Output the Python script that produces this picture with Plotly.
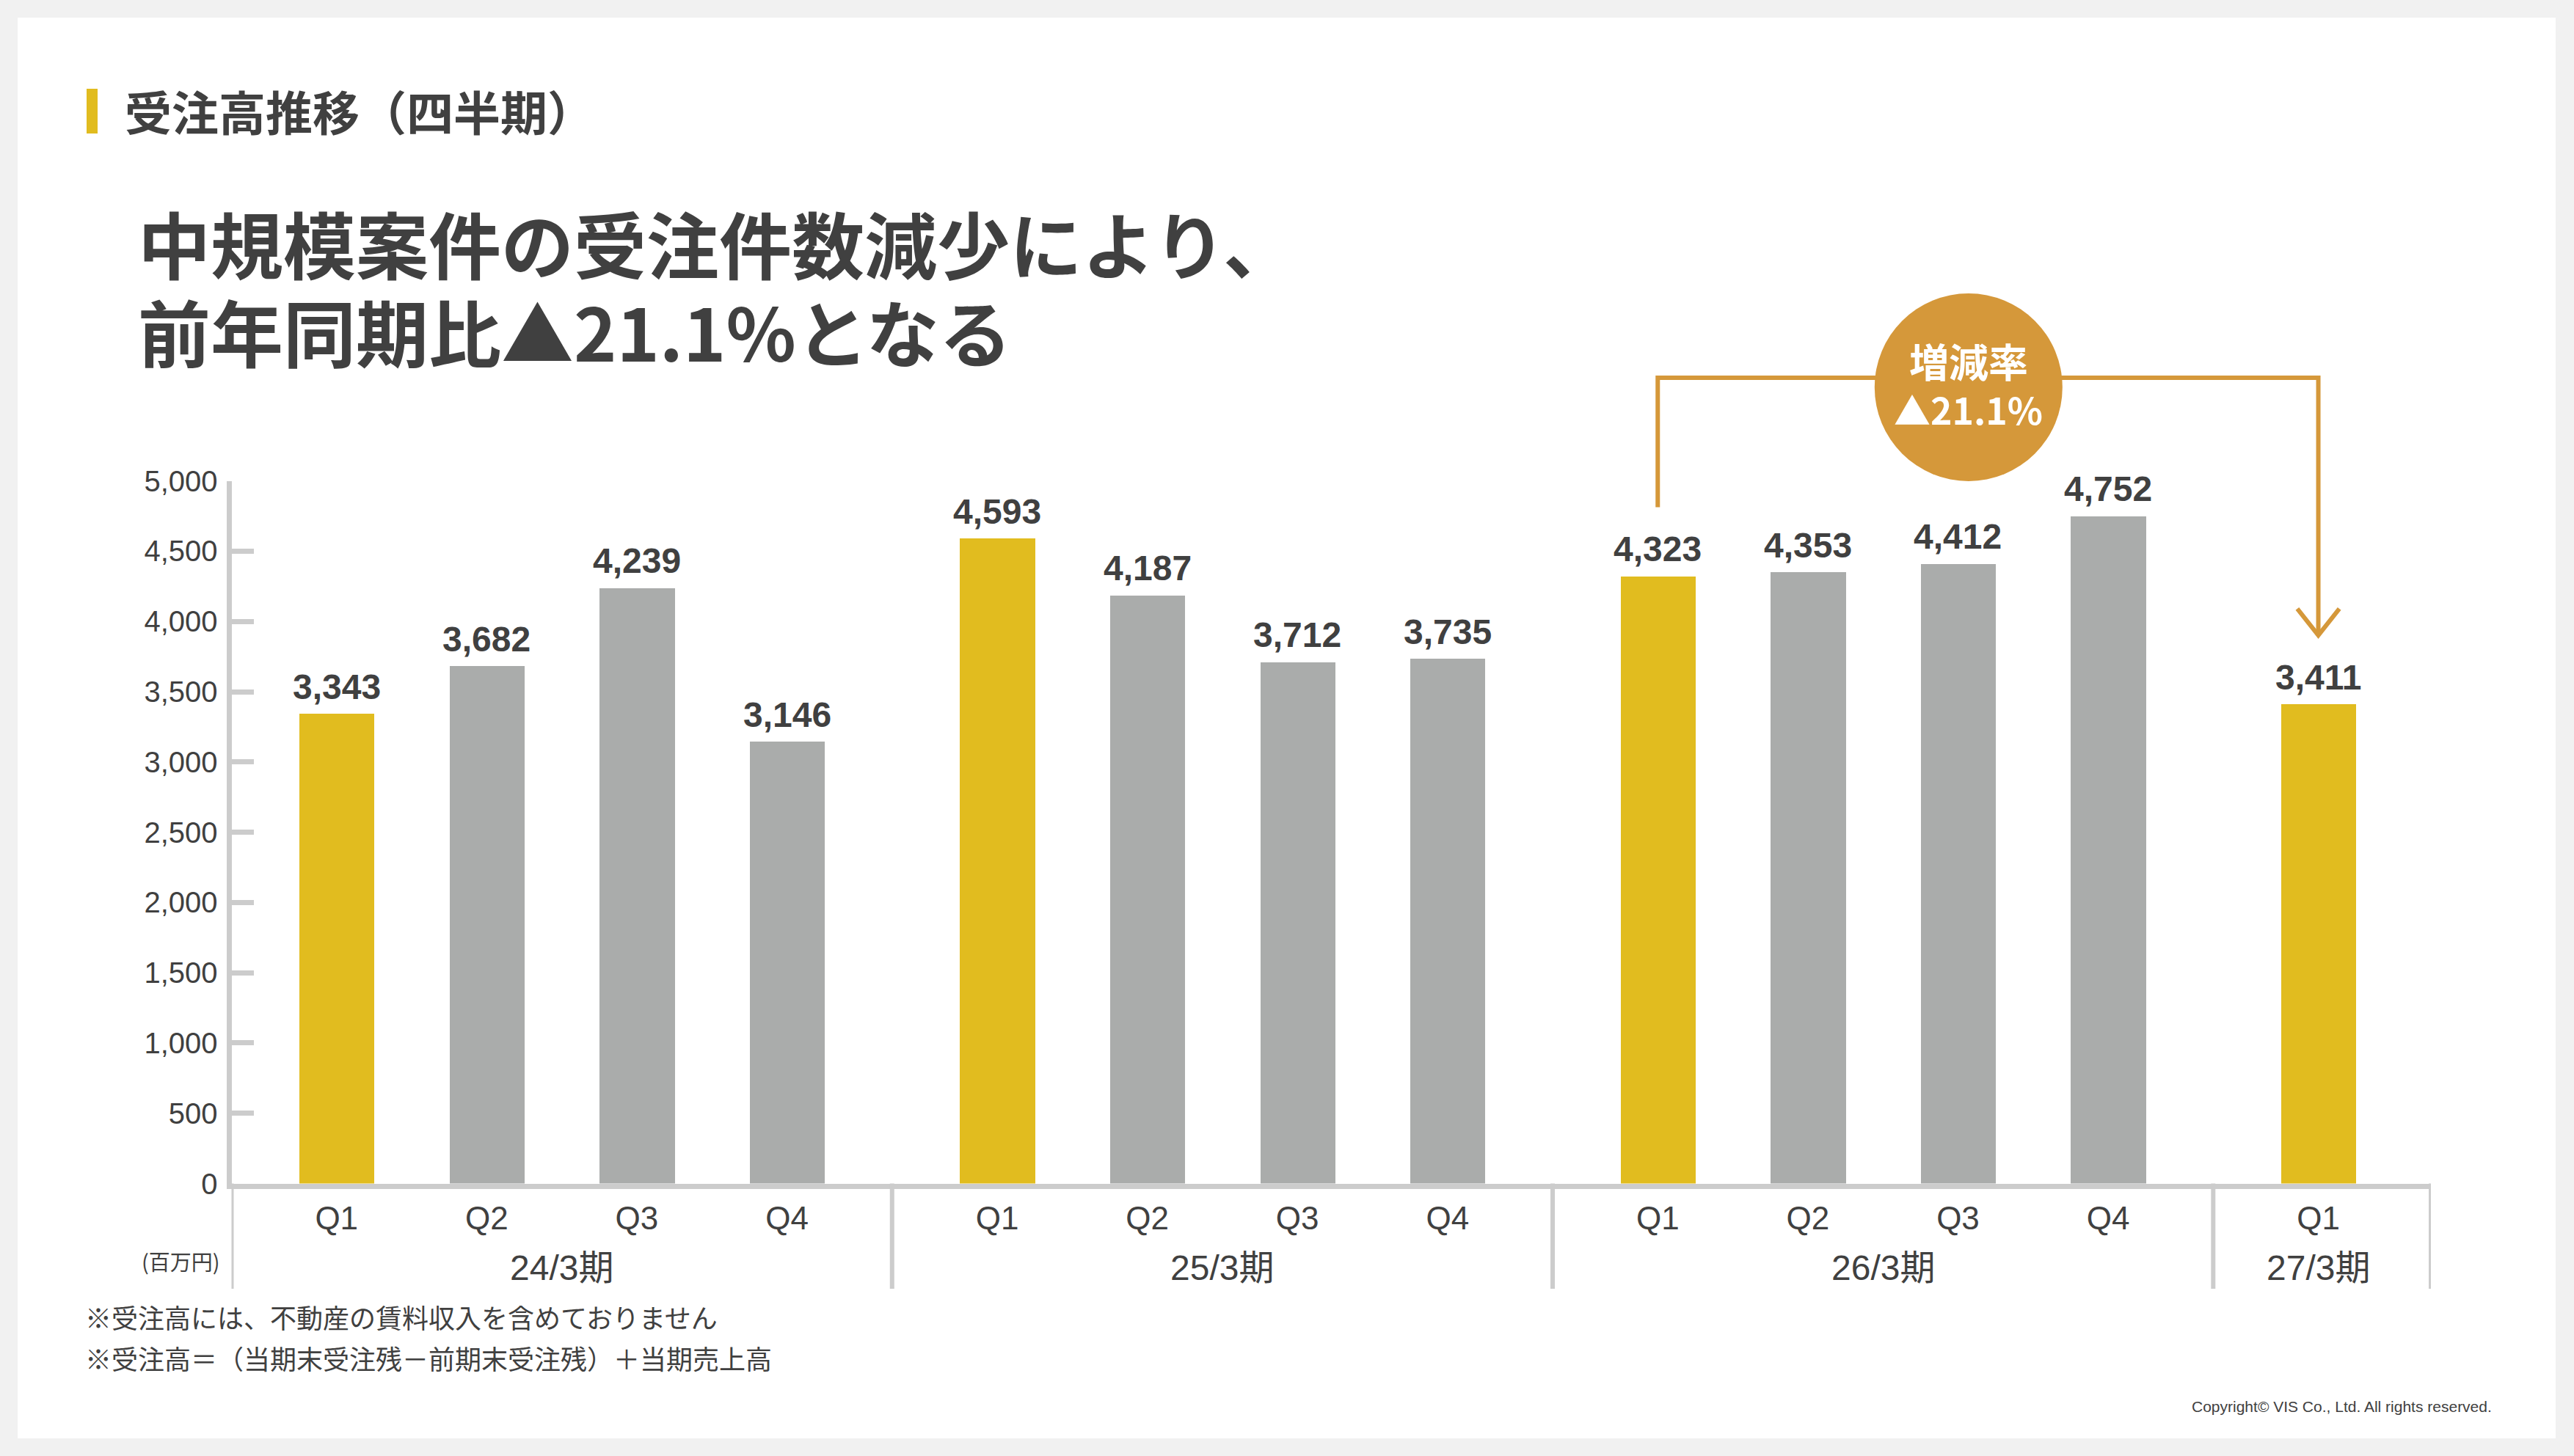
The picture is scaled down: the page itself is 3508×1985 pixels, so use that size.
import plotly.graph_objects as go

# ---------------- data ----------------
periods = ["24/3期", "24/3期", "24/3期", "24/3期",
           "25/3期", "25/3期", "25/3期", "25/3期",
           "26/3期", "26/3期", "26/3期", "26/3期",
           "27/3期"]
quarters = ["Q1", "Q2", "Q3", "Q4",
            "Q1", "Q2", "Q3", "Q4",
            "Q1", "Q2", "Q3", "Q4",
            "Q1"]
values = [3343, 3682, 4239, 3146,
          4593, 4187, 3712, 3735,
          4323, 4353, 4412, 4752,
          3411]
group_labels = ["24/3期", "25/3期", "26/3期", "27/3期"]
yticks = [0, 500, 1000, 1500, 2000, 2500, 3000, 3500, 4000, 4500, 5000]
change_label = "増減率"
change_value = "▲21.1%"

title_text = "受注高推移（四半期）"
headline1 = "中規模案件の受注件数減少により、"
headline2 = "前年同期比▲21.1%となる"
note1 = "※受注高には、不動産の賃料収入を含めておりません"
note2 = "※受注高＝（当期末受注残－前期末受注残）＋当期売上高"
unit_text = "(百万円)"
copyright_text = "Copyright© VIS Co., Ltd. All rights reserved."

# ---------------- style ----------------
W, H = 3508, 1985
YELLOW = "#E1BC1F"
GRAY = "#AAACAB"
AXIS = "#CCCCCC"
TEXT = "#404040"
ORANGE = "#D5983A"
JP = "Noto Sans CJK JP"
LAT = "Liberation Sans, Noto Sans CJK JP"
YMAX = 5000
GROUP_GAP = 0.4
BAR_W = 0.5

# x positions: groups separated by an extra gap
group_index = [group_labels.index(p) for p in periods]
q_index = [int(q[1]) - 1 for q in quarters]
xpos = [g * (4 + GROUP_GAP) + q for g, q in zip(group_index, q_index)]
colors = [YELLOW if q == "Q1" else GRAY for q in quarters]

# group extents
g_min = {}
g_max = {}
for g, x in zip(group_index, xpos):
    g_min[g] = min(g_min.get(g, x), x)
    g_max[g] = max(g_max.get(g, x), x)
half = (1 + GROUP_GAP) / 2
boundaries = ([g_min[0] - 0.7]
              + [g_max[g] + half for g in range(len(group_labels) - 1)]
              + [g_max[len(group_labels) - 1] + 0.75])
xrange_ = [boundaries[0], boundaries[-1]]

x_dom = [315.5 / W, 3313 / W]
y_dom = [1 - 1613.5 / H, 1 - 655.7 / H]

fig = go.Figure()
fig.add_trace(go.Bar(
    x=xpos, y=values, width=BAR_W,
    marker=dict(color=colors, line=dict(width=0)),
    hoverinfo="y", showlegend=False,
))

shapes = []
# white card on grey page
shapes.append(dict(type="rect", xref="paper", yref="paper",
                   x0=24 / W, x1=3483 / W, y0=1 - 1961 / H, y1=1 - 24 / H,
                   fillcolor="white", line=dict(width=0), layer="below"))
# title marker
shapes.append(dict(type="rect", xref="paper", yref="paper",
                   x0=118 / W, x1=133 / W, y0=1 - 182 / H, y1=1 - 121 / H,
                   fillcolor=YELLOW, line=dict(width=0)))
# group separators below the axis
for b in boundaries:
    shapes.append(dict(type="line", xref="x", yref="paper",
                       x0=b, x1=b, y0=y_dom[0], y1=1 - 1757 / H,
                       line=dict(color=AXIS, width=6)))

# bracket from 26/3 Q1 to 27/3 Q1
i_from, i_to = 8, 12
GAP = 490
top = 1.1468
x_a, x_b = xpos[i_from], xpos[i_to]
y_a = (values[i_from] + GAP) / YMAX
y_b = (values[i_to] + GAP) / YMAX
shapes.append(dict(type="path", xref="x", yref="y domain",
                   path=f"M {x_a} {y_a} L {x_a} {top} L {x_b} {top} L {x_b} {y_b}",
                   line=dict(color=ORANGE, width=6)))
dx, dy = 0.14, 190 / YMAX
shapes.append(dict(type="path", xref="x", yref="y domain",
                   path=f"M {x_b - dx} {y_b + dy} L {x_b} {y_b} L {x_b + dx} {y_b + dy}",
                   line=dict(color=ORANGE, width=6)))
cx = (x_a + x_b) / 2 - 0.13
shapes.append(dict(type="circle", xref="x", yref="y domain",
                   xsizemode="pixel", ysizemode="pixel",
                   xanchor=cx, yanchor=1.1334,
                   x0=-128, x1=128, y0=-128, y1=128,
                   fillcolor=ORANGE, line=dict(width=0)))

annotations = []
# bar value labels
for x, v in zip(xpos, values):
    annotations.append(dict(x=x, y=v, xref="x", yref="y", text=f"{v:,}",
                            showarrow=False, xanchor="center", yanchor="bottom", yshift=8,
                            font=dict(family=LAT, size=48, color=TEXT, weight="bold")))
# group labels
for g, lab in enumerate(group_labels):
    annotations.append(dict(x=(g_min[g] + g_max[g]) / 2, y=1 - 1728 / H,
                            xref="x", yref="paper", text=lab, showarrow=False,
                            xanchor="center", yanchor="middle",
                            font=dict(family=LAT, size=48, color=TEXT)))
# circle text
annotations.append(dict(x=cx, y=1.1710, xref="x", yref="y domain", text=change_label,
                        showarrow=False, xanchor="center", yanchor="middle",
                        font=dict(family=JP, size=54, color="white", weight="bold")))
annotations.append(dict(x=cx, y=1.1032, xref="x", yref="y domain", text=change_value,
                        showarrow=False, xanchor="center", yanchor="middle",
                        font=dict(family=JP, size=50, color="white", weight="bold")))
# texts
annotations.append(dict(x=168 / W, y=1 - 150 / H, xref="paper", yref="paper", text=title_text,
                        showarrow=False, xanchor="left", yanchor="middle",
                        font=dict(family=JP, size=64, color=TEXT, weight="bold")))
annotations.append(dict(x=186 / W, y=1 - 330 / H, xref="paper", yref="paper", text=headline1,
                        showarrow=False, xanchor="left", yanchor="middle",
                        font=dict(family=JP, size=99, color=TEXT, weight="bold")))
annotations.append(dict(x=186 / W, y=1 - 450 / H, xref="paper", yref="paper", text=headline2,
                        showarrow=False, xanchor="left", yanchor="middle",
                        font=dict(family=JP, size=99, color=TEXT, weight="bold")))
annotations.append(dict(x=246 / W, y=1 - 1719 / H, xref="paper", yref="paper", text=unit_text,
                        showarrow=False, xanchor="center", yanchor="middle",
                        font=dict(family=JP, size=29, color=TEXT)))
annotations.append(dict(x=114 / W, y=1 - 1795 / H, xref="paper", yref="paper", text=note1,
                        showarrow=False, xanchor="left", yanchor="middle",
                        font=dict(family=JP, size=36, color=TEXT)))
annotations.append(dict(x=114 / W, y=1 - 1851 / H, xref="paper", yref="paper", text=note2,
                        showarrow=False, xanchor="left", yanchor="middle",
                        font=dict(family=JP, size=36, color=TEXT)))
annotations.append(dict(x=3398 / W, y=1 - 1917 / H, xref="paper", yref="paper", text=copyright_text,
                        showarrow=False, xanchor="right", yanchor="middle",
                        font=dict(family="Liberation Sans", size=21, color=TEXT)))

fig.update_layout(
    width=W, height=H,
    margin=dict(l=0, r=0, t=0, b=0, pad=0, autoexpand=False),
    paper_bgcolor="#F1F1F1",
    plot_bgcolor="rgba(0,0,0,0)",
    bargap=0,
    shapes=shapes,
    annotations=annotations,
    xaxis=dict(domain=x_dom, range=xrange_, tickvals=xpos, ticktext=quarters,
               showline=True, linecolor=AXIS, linewidth=7, ticks="",
               showgrid=False, zeroline=False, ticklabelstandoff=3, automargin=False,
               tickfont=dict(family=LAT, size=44, color=TEXT), fixedrange=True),
    yaxis=dict(domain=y_dom, range=[0, YMAX], tickvals=yticks, tickformat=",",
               showline=True, linecolor=AXIS, linewidth=7,
               ticks="inside", ticklen=30, tickwidth=7, tickcolor=AXIS,
               showgrid=False, zeroline=False, ticklabelstandoff=4, automargin=False,
               tickfont=dict(family=LAT, size=40, color=TEXT), fixedrange=True),
)

fig.write_html("out.html", config={"displayModeBar": False},
               post_script="document.body.style.margin='0';")
